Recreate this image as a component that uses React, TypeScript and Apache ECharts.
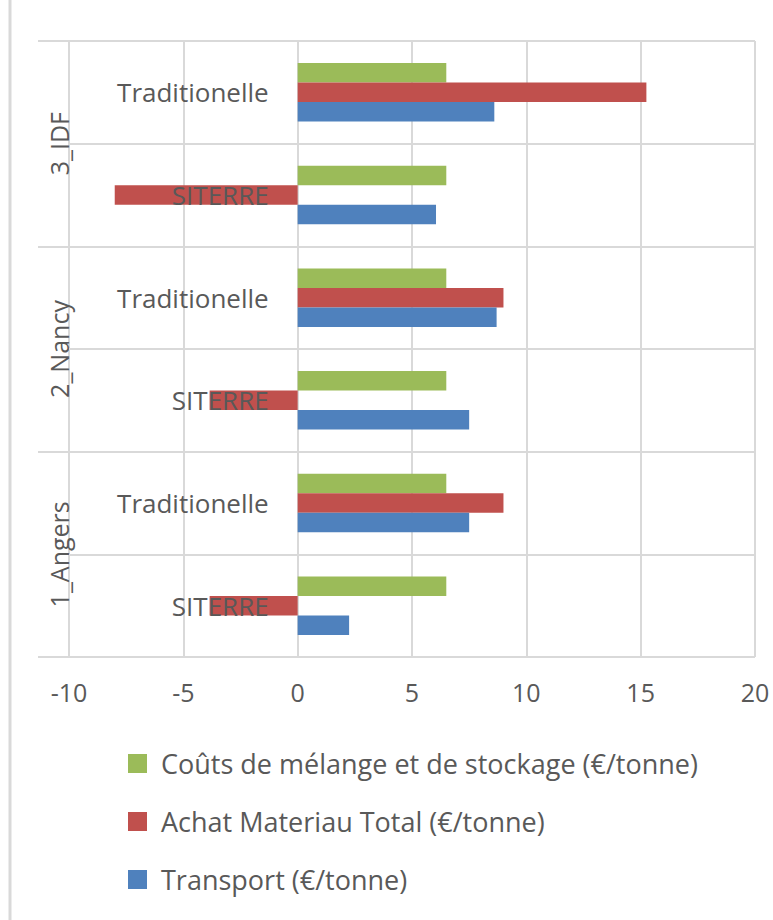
import React, { useEffect, useRef } from "react";
import * as echarts from "echarts";

const categories = ["SITERRE", "Traditionelle", "SITERRE", "Traditionelle", "SITERRE", "Traditionelle"];
const groups = ["1_Angers", "2_Nancy", "3_IDF"];
const seriesNames = [
  "Coûts de mélange et de stockage (€/tonne)",
  "Achat Materiau Total (€/tonne)",
  "Transport (€/tonne)",
];
const melange = [6.5, 6.5, 6.5, 6.5, 6.5, 6.5];
const achat = [-3.85, 9.0, -3.85, 9.0, -8.0, 15.25];
const transport = [2.25, 7.5, 7.5, 8.7, 6.05, 8.6];
const xTicks = { min: -10, max: 20, interval: 5 };

const colors = ["#9BBB59", "#C0504D", "#4F81BD"];
const FONT = "Open Sans";
const FS = 25;
const CFS = 26;
const LFS = 27;
const TXT = "#595959";
const GRID = "#d9d9d9";
const GRID_LEFT = 69;

export default function App() {
  const ref = useRef<HTMLDivElement>(null);
  useEffect(() => {
    document.body.style.margin = "0";
    const chart = echarts.init(ref.current!, null, { renderer: "svg" });
    const values = [melange, achat, transport];
    const buildOption = (labelMargin: number) => ({
      animation: false,
      textStyle: { fontFamily: FONT },
      grid: { left: GRID_LEFT, right: 18, top: 41, bottom: 263, outerBoundsMode: "none" },
      xAxis: {
        type: "value",
        min: xTicks.min,
        max: xTicks.max,
        interval: xTicks.interval,
        axisLine: { show: false },
        axisTick: { show: false },
        axisLabel: { fontSize: FS, color: TXT, margin: 22, fontFamily: FONT },
        splitLine: { lineStyle: { color: GRID, width: 2 } },
      },
      yAxis: [
        {
          type: "category",
          data: categories,
          position: "left",
          z: 10,
          axisLine: { show: false, onZero: false },
          axisTick: { show: false },
          axisLabel: { fontSize: CFS, color: TXT, margin: labelMargin, fontFamily: FONT },
          splitLine: { show: true, lineStyle: { color: GRID, width: 2 } },
        },
        {
          type: "category",
          data: groups,
          position: "left",
          axisLine: { show: false, onZero: false },
          axisTick: { show: true, length: 31, lineStyle: { color: GRID, width: 2 } },
          axisLabel: { rotate: 90, fontSize: FS, color: TXT, margin: -2, fontFamily: FONT },
          splitLine: { show: false },
        },
      ],
      legend: {
        orient: "vertical",
        left: 123,
        top: 745,
        itemWidth: 19,
        itemHeight: 19,
        itemGap: 31,
        icon: "rect",
        data: seriesNames,
        textStyle: { fontSize: LFS, color: TXT, fontFamily: FONT, padding: [0, 0, 0, 9] },
      },
      series: seriesNames.map((name, i) => ({
        name,
        type: "bar",
        yAxisIndex: 0,
        data: values[i],
        itemStyle: { color: colors[i] },
        barGap: "0%",
        barCategoryGap: "43%",
      })),
      graphic: [
        {
          type: "line",
          shape: { x1: 10, y1: 0, x2: 10, y2: 920 },
          style: { stroke: GRID, lineWidth: 3 },
        },
      ],
    });
    chart.setOption(buildOption(0));
    const zeroPx = chart.convertToPixel({ xAxisIndex: 0 }, 0) as number;
    chart.setOption(buildOption(GRID_LEFT + 29 - zeroPx));
    return () => chart.dispose();
  }, []);
  return <div ref={ref} style={{ width: 773, height: 920 }} />;
}
